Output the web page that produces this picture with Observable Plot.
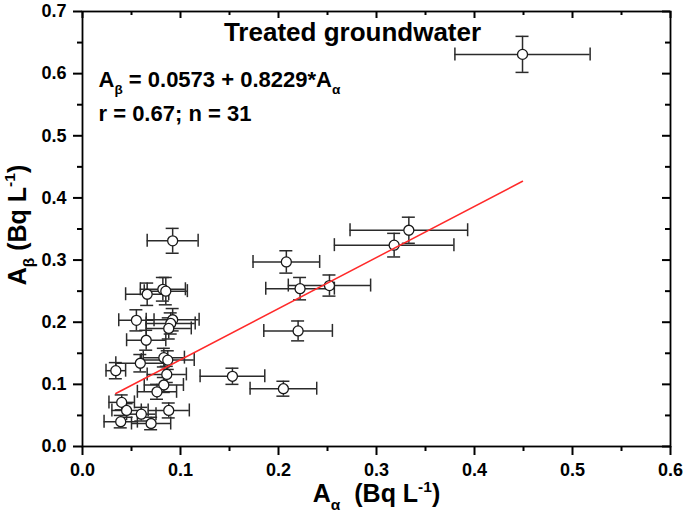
<!DOCTYPE html>
<html>
<head>
<meta charset="utf-8">
<script src="https://cdn.jsdelivr.net/npm/d3@7"></script>
<script src="https://cdn.jsdelivr.net/npm/@observablehq/plot@0.6"></script>
<style>
  html, body { margin: 0; padding: 0; background: #fff; }
  #chart text { white-space: pre; }
</style>
</head>
<body>
<div id="chart"></div>
<script>
// ---- data ----
const alphaAct = [0.449, 0.333, 0.318, 0.208, 0.222, 0.252, 0.220, 0.153, 0.205, 0.092,
                  0.082, 0.085, 0.066, 0.055, 0.092, 0.090, 0.088, 0.065, 0.083, 0.087,
                  0.059, 0.034, 0.086, 0.083, 0.076, 0.040, 0.045, 0.060, 0.088, 0.039, 0.070];
const betaAct  = [0.631, 0.348, 0.324, 0.297, 0.254, 0.259, 0.186, 0.113, 0.093, 0.331,
                  0.253, 0.250, 0.245, 0.203, 0.204, 0.198, 0.190, 0.171, 0.143, 0.139,
                  0.134, 0.122, 0.116, 0.099, 0.088, 0.071, 0.058, 0.052, 0.058, 0.040, 0.037];
const alphaErr = [0.069, 0.060, 0.061, 0.034, 0.035, 0.042, 0.035, 0.033, 0.034, 0.026,
                  0.023, 0.022, 0.022, 0.018, 0.027, 0.025, 0.023, 0.020, 0.021, 0.027,
                  0.025, 0.010, 0.020, 0.020, 0.020, 0.013, 0.015, 0.015, 0.021, 0.017, 0.020];
const betaErr  = [0.029, 0.021, 0.019, 0.018, 0.018, 0.017, 0.016, 0.013, 0.012, 0.020,
                  0.019, 0.022, 0.018, 0.017, 0.018, 0.017, 0.017, 0.016, 0.015, 0.015,
                  0.014, 0.013, 0.013, 0.012, 0.012, 0.012, 0.011, 0.011, 0.012, 0.010, 0.010];

const fitIntercept = 0.0573;
const fitSlope = 0.8229;
const fitRange = [0.034, 0.449];

const xTicks = [0, 0.1, 0.2, 0.3, 0.4, 0.5, 0.6];
const xMinor = [0.05, 0.15, 0.25, 0.35, 0.45, 0.55];
const yTicks = [0, 0.1, 0.2, 0.3, 0.4, 0.5, 0.6, 0.7];
const yMinor = [0.05, 0.15, 0.25, 0.35, 0.45, 0.55, 0.65];

const titleText = "Treated groundwater";
const equationText = "A_{β} = 0.0573 + 0.8229*A_{α}";
const statsText = "r = 0.67; n = 31";
const xLabel = "A_{α}  (Bq L^{-1})";
const yLabel = "A_{β} (Bq L^{-1})";

// ---- layout ----
const W = 685, H = 518;
const M = {top: 11, right: 15, bottom: 72, left: 82};

// ---- build ----
const points = alphaAct.map((a, i) => ({a, b: betaAct[i], ea: alphaErr[i], eb: betaErr[i]}));
const fit = fitRange.map(a => ({a, b: fitIntercept + fitSlope * a}));
const x0 = xTicks[0], x1 = xTicks[xTicks.length - 1];
const y0 = yTicks[0], y1 = yTicks[yTicks.length - 1];

const fmt = d3.format(".1f");
const errColor = "#2b2b2b";
const cap = -6.5;
const axW = 2;

// tick tables: value + the frame edge they sit on
const tickRows = (vals, base) => vals.map(v => ({v, base}));
// bottom edge ticks point down (outward), top edge ticks point down (inward)
function ticksX(vals, base, len) {
  return Plot.ruleX(tickRows(vals, base), {x: "v", y1: "base", y2: "base",
    insetTop: 0, insetBottom: -len, stroke: "#000", strokeWidth: axW});
}
// left edge ticks point left (outward), right edge ticks point left (inward)
function ticksY(vals, base, len) {
  return Plot.ruleY(tickRows(vals, base), {y: "v", x1: "base", x2: "base",
    insetLeft: -len, insetRight: 0, stroke: "#000", strokeWidth: axW});
}

const chart = Plot.plot({
  width: W, height: H,
  marginTop: M.top, marginRight: M.right, marginBottom: M.bottom, marginLeft: M.left,
  style: {fontFamily: "'Liberation Sans', Arial, sans-serif", fontWeight: "bold", color: "#000", background: "#fff"},
  x: {domain: [x0, x1], axis: null},
  y: {domain: [y0, y1], axis: null},
  marks: [
    // error bars with caps
    Plot.ruleY(points, {y: "b", x1: d => d.a - d.ea, x2: d => d.a + d.ea, stroke: errColor, strokeWidth: 1.5}),
    Plot.ruleX(points, {x: "a", y1: d => d.b - d.eb, y2: d => d.b + d.eb, stroke: errColor, strokeWidth: 1.5}),
    Plot.ruleX(points, {x: d => d.a - d.ea, y1: "b", y2: "b", insetTop: cap, insetBottom: cap, stroke: errColor, strokeWidth: 1.5}),
    Plot.ruleX(points, {x: d => d.a + d.ea, y1: "b", y2: "b", insetTop: cap, insetBottom: cap, stroke: errColor, strokeWidth: 1.5}),
    Plot.ruleY(points, {y: d => d.b - d.eb, x1: "a", x2: "a", insetLeft: cap, insetRight: cap, stroke: errColor, strokeWidth: 1.5}),
    Plot.ruleY(points, {y: d => d.b + d.eb, x1: "a", x2: "a", insetLeft: cap, insetRight: cap, stroke: errColor, strokeWidth: 1.5}),
    // open circles
    Plot.dot(points, {x: "a", y: "b", r: 5, fill: "white", stroke: "#1a1a1a", strokeWidth: 1.3}),
    // regression line
    Plot.line(fit, {x: "a", y: "b", stroke: "#ff2a2a", strokeWidth: 1.5}),
    // ticks
    ticksX(xTicks, y0, 9),
    ticksX(xMinor, y0, 5),
    ticksX(xTicks, y1, 7),
    ticksX(xMinor, y1, 4),
    ticksY(yTicks, x0, 9),
    ticksY(yMinor, x0, 5),
    ticksY(yTicks, x1, 8),
    ticksY(yMinor, x1, 5),
    // frame
    Plot.frame({stroke: "#000", strokeWidth: 1.8}),
    // tick labels
    Plot.text(xTicks, {x: d => d, text: fmt, frameAnchor: "bottom", textAnchor: "middle", lineAnchor: "middle", dy: 24, fontSize: 18, fontWeight: "bold", fill: "#000"}),
    Plot.text(yTicks, {y: d => d, text: fmt, frameAnchor: "left", textAnchor: "end", lineAnchor: "middle", dx: -16, fontSize: 18, fontWeight: "bold", fill: "#000"}),
    // annotations
    Plot.text([titleText], {text: d => d, frameAnchor: "top", textAnchor: "middle", lineAnchor: "middle", dx: -24, dy: 21, fontSize: 26, fontWeight: "bold", fill: "#000"}),
    Plot.text([equationText], {text: d => d, frameAnchor: "top-left", textAnchor: "start", lineAnchor: "middle", dx: 16, dy: 68, fontSize: 22, fontWeight: "bold", fill: "#000"}),
    Plot.text([statsText], {text: d => d, frameAnchor: "top-left", textAnchor: "start", lineAnchor: "middle", dx: 16, dy: 102, fontSize: 22, fontWeight: "bold", fill: "#000"}),
    // axis labels
    Plot.text([xLabel], {text: d => d, frameAnchor: "bottom", textAnchor: "middle", lineAnchor: "middle", dy: 47.5, fontSize: 25, fontWeight: "bold", fill: "#000"}),
    Plot.text([yLabel], {text: d => d, frameAnchor: "left", textAnchor: "middle", lineAnchor: "middle", dx: -65, dy: -4, rotate: -90, fontSize: 25, fontWeight: "bold", fill: "#000"})
  ]
});

document.getElementById("chart").append(chart);

// turn _{..} and ^{..} markers into real subscripts / superscripts
d3.select(chart).selectAll("text").each(function () {
  const s = this.textContent;
  if (!/[_^]\{/.test(s)) return;
  const cs = getComputedStyle(this);
  const fs = parseFloat(cs.fontSize) || 20;
  const centred = cs.textAnchor === "middle";
  const r0 = this.getBoundingClientRect();
  const c0 = {x: r0.left + r0.width / 2, y: r0.top + r0.height / 2};
  const el = d3.select(this);
  el.text(null);
  const parts = s.split(/([_^]\{[^}]*\})/).filter(p => p !== "");
  let pending = 0;
  for (const p of parts) {
    const m = p.match(/^([_^])\{(.*)\}$/);
    if (m) {
      const shift = m[1] === "_" ? 0.32 * fs : -0.42 * fs;
      el.append("tspan").attr("dy", shift - pending).attr("font-size", 0.62 * fs).text(m[2]);
      pending = shift;
    } else {
      const t = el.append("tspan").text(p);
      if (pending) t.attr("dy", -pending);
      pending = 0;
    }
  }
  if (centred) {
    // keep the rewritten string centred where Plot anchored it
    this.setAttribute("text-anchor", "start");
    this.style.textAnchor = "start";
    const r1 = this.getBoundingClientRect();
    const c1 = {x: r1.left + r1.width / 2, y: r1.top + r1.height / 2};
    const gx = c0.x - c1.x, gy = c0.y - c1.y;
    const inv = this.getScreenCTM().inverse();
    const lx = inv.a * gx + inv.c * gy;
    const xa = +this.getAttribute("x") || 0;
    this.setAttribute("x", xa + lx);
  }
});
</script>
</body>
</html>
